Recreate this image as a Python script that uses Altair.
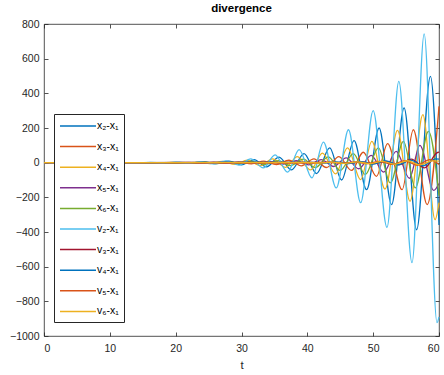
import altair as alt
import pandas as pd

LABELS = ["x₂-x₁", "x₃-x₁", "x₄-x₁", "x₅-x₁", "x₆-x₁",
          "v₂-x₁", "v₃-x₁", "v₄-x₁", "v₅-x₁", "v₆-x₁"]
COLORS = ["#0072BD", "#D95319", "#EDB120", "#7E2F8E", "#77AC30",
          "#4DBEEE", "#A2142F", "#0072BD", "#D95319", "#EDB120"]

X_TICKS = [0, 10, 20, 30, 40, 50, 60]
Y_TICKS = [-1000, -800, -600, -400, -200, 0, 200, 400, 600, 800]

# x2-x1
T_X2 = [0, 14, 18.6, 20.5, 22.4, 24.3, 26.2, 28.1, 30.0, 31.9, 33.8, 35.7, 37.6,
        39.5, 41.4, 43.4, 45.2, 47.1, 49.0, 50.9, 52.8, 54.7, 56.6, 58.7, 60]
Y_X2 = [0, 0, -1, 2, -3, 4, -6, 9, -12, 18, -24, 32, -42,
        52, -63, 85, -100, 127, -156, 200, -242, 316, -387, 498, -360]
# x3-x1
T_X3 = [0, 14, 22.0, 23.9, 25.8, 27.7, 29.6, 31.5, 33.4, 35.3, 37.2, 39.1,
        41.0, 42.9, 44.8, 46.7, 48.5, 50.5, 52.2, 54.4, 56.1, 58.2, 60]
Y_X3 = [0, 0, 1, -2, 3, -4, 5, -7, 9, -11, 14, -18,
        22, -28, 35, -45, 60, -79, 110, -156, 190, -242, 325]
# x4-x1
T_X4 = [0, 14, 17.6, 19.5, 21.4, 23.3, 25.2, 27.1, 29.0, 30.9, 32.9, 34.7, 36.7,
        38.5, 40.5, 42.3, 44.3, 46.1, 48.1, 49.8, 51.8, 53.7, 55.6, 57.55, 59.4, 60]
Y_X4 = [0, 0, -1, 1, -2, 3, -5, 7, -10, 14, -17, 22, -27,
        35, -42, 55, -65, 85, -98, 123, -152, 186, -223, 277, -329, -230]
# x5-x1
T_X5 = [0, 14, 28.8, 30.7, 32.6, 34.5, 36.4, 38.3, 40.2, 42.1, 44.0, 45.9,
        47.8, 49.7, 51.6, 53.5, 55.5, 57.1, 59.2, 60]
Y_X5 = [0, 0, -2, 3, -4, 6, -8, 11, -13, 18, -22, 28,
        -35, 42, -55, 65, -90, 100, -160, -120]
# x6-x1
T_X6 = [0, 14, 22.3, 24.2, 26.1, 28.0, 29.8, 31.8, 33.6, 35.6, 37.4, 39.4,
        41.2, 43.2, 45.0, 47.0, 48.8, 50.8, 52.6, 54.6, 56.4, 58.4, 60]
Y_X6 = [0, 0, -2, 4, -5, 6, -6, 7, -10, 12, -17, 20,
        -28, 33, -45, 52, -69, 85, -117, 123, -146, 181, -190]
# v2-x1
T_V2 = [0, 14, 16.2, 18.1, 20.0, 21.9, 23.8, 25.7, 27.6, 29.6, 31.4, 33.3, 35.1,
        37.0, 38.75, 40.7, 42.45, 44.4, 46.25, 48.1, 50.0, 52.1, 53.9, 55.9,
        57.75, 59.7, 60]
Y_V2 = [0, 0, 1, -2, 3, -4, 5, -7, 10, -14, 22, -30, 45,
        -55, 75, -88, 119, -146, 190, -231, 300, -373, 469, -577,
        743, -923, -890]
# v3-x1
T_V3 = [0, 14, 44.4, 46.3, 48.2, 50.1, 52.0, 53.9, 55.8, 57.8, 59.9, 60]
Y_V3 = [0, 0, 2, -3, 4, -6, 8, -12, 20, -30, 60, 58]
# v4-x1
T_V4 = [0, 14, 40.5, 42.4, 44.3, 46.2, 48.1, 50.0, 51.9, 53.8, 55.7, 57.6, 59.5, 60]
Y_V4 = [0, 0, 2, -3, 4, -5, 6, -8, 10, -12, 15, -18, 22, 20]
# v5-x1
T_V5 = [0, 14, 41.5, 43.4, 45.3, 47.2, 49.1, 51.0, 52.9, 54.8, 56.7, 58.6, 60]
Y_V5 = [0, 0, -2, 3, -4, 5, -6, 8, -10, 12, -15, 18, -10]
# v6-x1
T_V6 = [0, 14, 40.0, 41.9, 43.8, 45.7, 47.6, 49.5, 51.4, 53.3, 55.2, 57.1, 59.0, 60]
Y_V6 = [0, 0, 1, -2, 3, -4, 5, -6, 8, -9, 11, -13, 10, 9]

T_ALL = [T_X2, T_X3, T_X4, T_X5, T_X6, T_V2, T_V3, T_V4, T_V5, T_V6]
Y_ALL = [Y_X2, Y_X3, Y_X4, Y_X5, Y_X6, Y_V2, Y_V3, Y_V4, Y_V5, Y_V6]

rows = []
for i, (lab, ts, ys) in enumerate(zip(LABELS, T_ALL, Y_ALL)):
    for t, y in zip(ts, ys):
        rows.append({"series": lab, "idx": i, "t": t, "y": y})
df = pd.DataFrame(rows)

W, H = 395, 312
FONT = "Liberation Sans"
INK = "#262626"

chart = alt.Chart(df).mark_line(strokeWidth=1.3, interpolate="monotone").encode(
    x=alt.X("t:Q", scale=alt.Scale(domain=[0, 60], nice=False, zero=False),
            axis=alt.Axis(values=X_TICKS, title="t", grid=True, ticks=False, domain=False,
                          gridDash=[4, H - 8, 4, 2000], gridColor=INK, gridOpacity=1,
                          gridWidth=0.8, labelPadding=7, titlePadding=6)),
    y=alt.Y("y:Q", scale=alt.Scale(domain=[-1000, 800], nice=False, zero=False),
            axis=alt.Axis(values=Y_TICKS, title=None, grid=True, ticks=False, domain=False,
                          format="d",
                          gridDash=[4, W - 8, 4, 2000], gridColor=INK, gridOpacity=1,
                          gridWidth=0.8, labelPadding=5)),
    color=alt.Color("series:N", scale=alt.Scale(domain=LABELS, range=COLORS),
                    legend=alt.Legend(title=None, orient="none", legendX=10, legendY=90,
                                      symbolType="M-3,0H3", symbolSize=144,
                                      symbolStrokeWidth=1.5, symbolOffset=12,
                                      labelFont=FONT,
                                      labelFontSize=10.5, labelColor="#000000",
                                      strokeColor=INK, fillColor="white", padding=5,
                                      rowPadding=7.6, labelOffset=12)),
    detail="idx:O",
).properties(
    width=W, height=H,
    title=alt.TitleParams("divergence", font=FONT, fontSize=11.5, fontWeight="bold",
                          color="#000000", offset=5),
    padding={"left": 44, "top": 24, "right": 5, "bottom": 39},
    autosize="none",
).configure_view(stroke=INK, strokeWidth=0.8).configure_axis(
    labelFont=FONT, labelFontSize=10.5, labelColor=INK,
    titleFont=FONT, titleFontSize=11.5, titleFontWeight="normal", titleColor=INK,
)

chart.save("out.html", embed_options={"renderer": "svg", "actions": False})
